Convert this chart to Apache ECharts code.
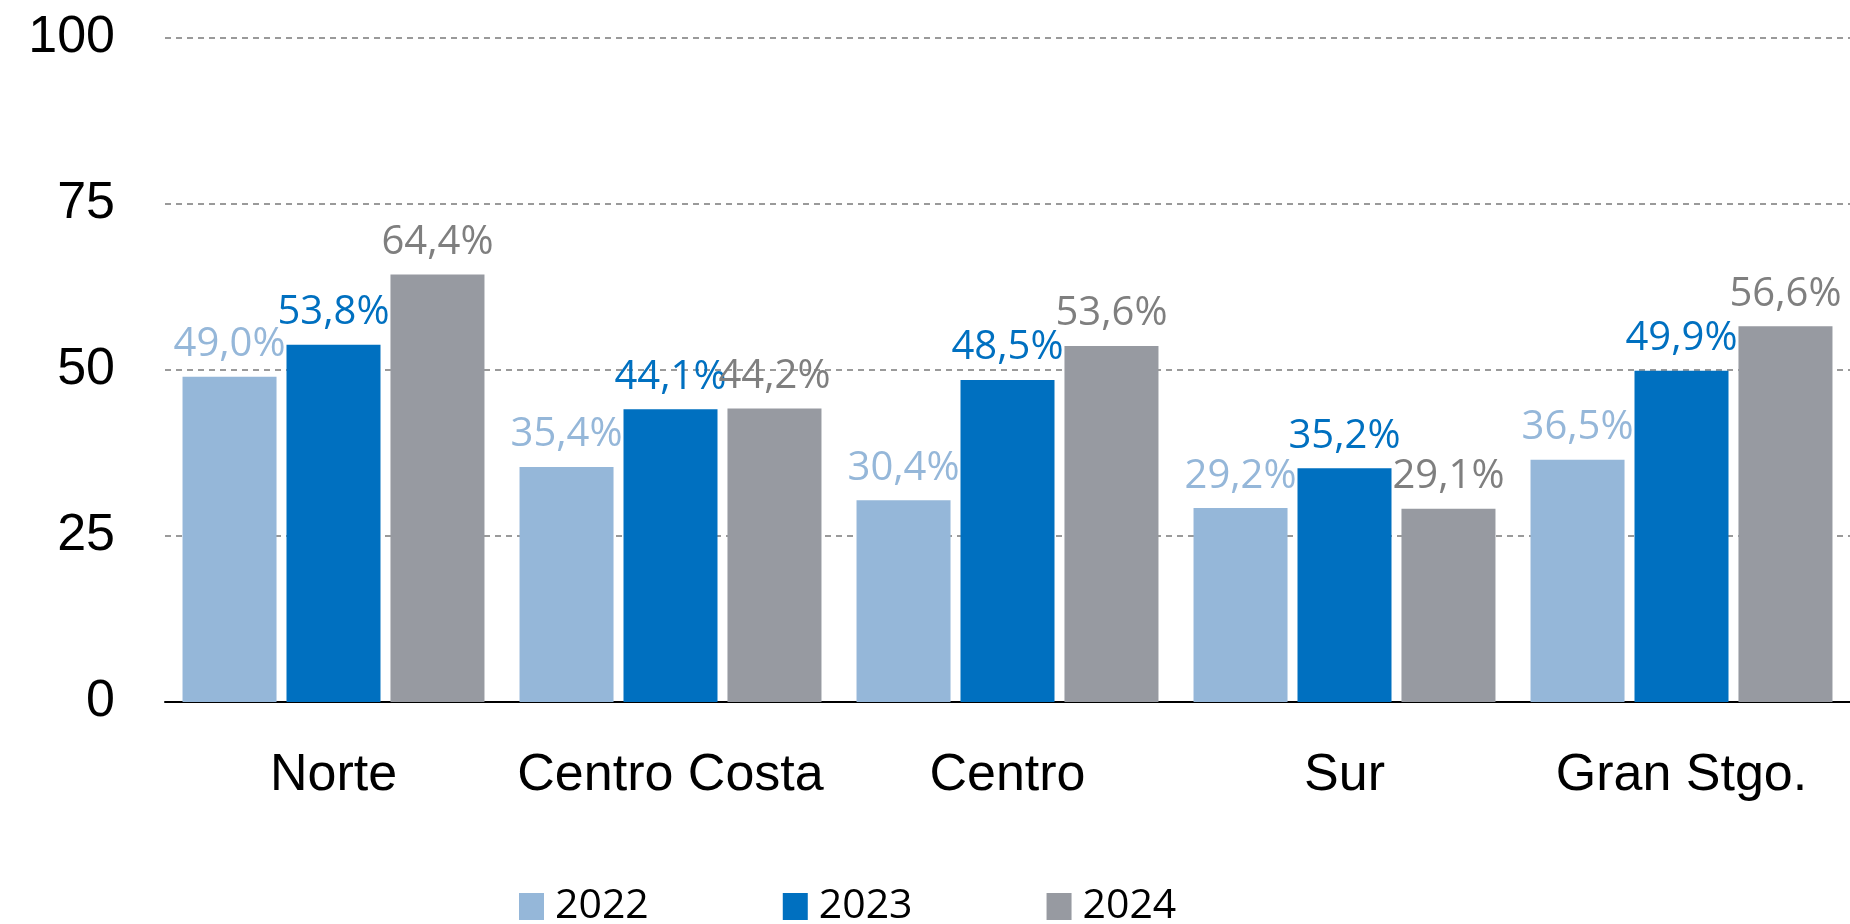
<!DOCTYPE html>
<html lang="es">
<head>
    <meta charset="UTF-8">
    <title>Regiones</title>
    <script src="https://cdn.jsdelivr.net/npm/echarts@6/dist/echarts.min.js"></script>
    <style>
        html, body { margin: 0; padding: 0; background: #ffffff; }
    </style>
</head>
<body>
<div id="chart" style="width: 1850px; height: 924px;"></div>
<script>
    // datos
    var regiones = ['Norte', 'Centro Costa', 'Centro', 'Sur', 'Gran Stgo.'];
    var anios = ['2022', '2023', '2024'];
    var v2022 = [49.0, 35.4, 30.4, 29.2, 36.5];
    var v2023 = [53.8, 44.1, 48.5, 35.2, 49.9];
    var v2024 = [64.4, 44.2, 53.6, 29.1, 56.6];

    var colores = ['#95b7d9', '#0070c0', '#979aa1'];
    var coloresEtiqueta = ['#95b7d9', '#0070c0', '#7f7f7f'];

    var chart = echarts.init(document.getElementById('chart'));

    function serie(nombre, datos, i) {
        return {
            name: nombre,
            type: 'bar',
            data: datos,
            barGap: '10.6%',
            barCategoryGap: '10.4%',
            itemStyle: { color: colores[i] },
            label: {
                show: true,
                position: 'top',
                distance: 12,
                color: coloresEtiqueta[i],
                fontFamily: 'Open Sans',
                fontSize: 40,
                formatter: function (p) {
                    return p.value.toFixed(1).replace('.', ',') + '%';
                }
            }
        };
    }

    chart.setOption({
        animation: false,
        backgroundColor: '#ffffff',
        grid: {
            left: 165,
            right: 0,
            top: 38,
            bottom: 222,
            containLabel: false
        },
        legend: {
            data: anios,
            left: 519,
            top: 886,
            padding: 0,
            itemWidth: 25,
            itemHeight: 27,
            itemGap: 134,
            icon: 'rect',
            textStyle: {
                fontFamily: 'Open Sans',
                fontSize: 41,
                color: '#000000',
                padding: [0, 0, 0, 6]
            }
        },
        xAxis: {
            type: 'category',
            data: regiones,
            axisLine: { lineStyle: { color: '#000000', width: 2 } },
            axisTick: { show: false },
            axisLabel: {
                interval: 0,
                margin: 48,
                fontFamily: 'Liberation Sans',
                fontSize: 52,
                color: '#000000'
            }
        },
        yAxis: {
            type: 'value',
            min: 0,
            max: 100,
            interval: 25,
            axisLine: { show: false },
            axisTick: { show: false },
            axisLabel: {
                margin: 50,
                fontFamily: 'Liberation Sans',
                fontSize: 52,
                color: '#000000'
            },
            splitLine: {
                lineStyle: { color: '#9a9a9a', width: 2, type: [6, 5] }
            }
        },
        series: [
            serie(anios[0], v2022, 0),
            serie(anios[1], v2023, 1),
            serie(anios[2], v2024, 2)
        ]
    });
</script>
</body>
</html>
